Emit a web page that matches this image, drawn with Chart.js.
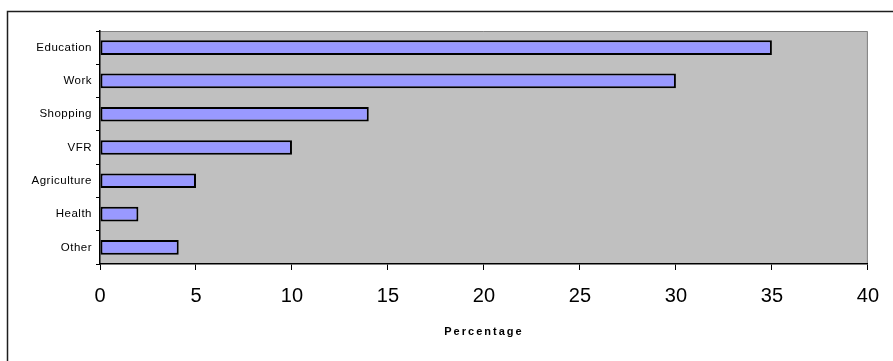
<!DOCTYPE html>
<html>
<head>
<meta charset="utf-8">
<script src="https://cdn.jsdelivr.net/npm/chart.js@4/dist/chart.umd.min.js"></script>
<style>
  html, body { margin: 0; padding: 0; background: #ffffff; }
  canvas { display: block; }
</style>
</head>
<body>
<canvas id="chart" width="893" height="361"></canvas>
<script>
// Trip purposes and their share of trips (%)
const categories = ['Education', 'Work', 'Shopping', 'VFR', 'Agriculture', 'Health', 'Other'];
const shares = [35, 30, 14, 10, 5, 2, 4.1];
const axisMin = 0;
const axisMax = 40;
const axisStep = 5;
const axisTitle = 'Percentage';

const FONT = "'Liberation Sans', Arial, Helvetica, sans-serif";

// Grey plot panel plus the frame lines around the whole figure
const panelPlugin = {
  id: 'panel',
  beforeDraw(chart) {
    const { ctx, chartArea: a } = chart;
    ctx.save();
    ctx.fillStyle = '#ffffff';
    ctx.fillRect(0, 0, chart.width, chart.height);
    // outer frame (top and left edges)
    ctx.strokeStyle = '#1e1e1e';
    ctx.lineWidth = 1.5;
    ctx.beginPath();
    ctx.moveTo(7.5, chart.height);
    ctx.lineTo(7.5, 11.5);
    ctx.lineTo(chart.width, 11.5);
    ctx.stroke();
    // plot panel
    ctx.fillStyle = '#c0c0c0';
    ctx.fillRect(a.left, a.top, a.right - a.left, a.bottom - a.top);
    ctx.strokeStyle = '#808080';
    ctx.lineWidth = 1;
    ctx.beginPath();
    ctx.moveTo(a.left, a.top + 0.5);
    ctx.lineTo(a.right - 0.5, a.top + 0.5);
    ctx.lineTo(a.right - 0.5, a.bottom);
    ctx.stroke();
    ctx.restore();
  }
};

// Wider letter spacing for the axis title and the category labels
const spacingPlugin = {
  id: 'spacing',
  beforeDraw(chart) {
    const wrap = (scale, method, spacing) => {
      const key = '_spaced_' + method;
      if (scale[key]) return;
      const orig = scale[method];
      scale[method] = function (...args) {
        const c = this.ctx;
        c.save();
        c.letterSpacing = spacing;
        orig.apply(this, args);
        c.restore();
      };
      scale[key] = true;
    };
    wrap(chart.scales.x, 'drawTitle', '2px');
    wrap(chart.scales.y, 'drawLabels', '0.5px');
  }
};

new Chart(document.getElementById('chart'), {
  type: 'bar',
  data: {
    labels: categories,
    datasets: [{
      data: shares,
      backgroundColor: '#9999ff',
      borderColor: '#000000',
      borderWidth: 2,
      borderSkipped: false,
      categoryPercentage: 1,
      barPercentage: 0.44
    }]
  },
  options: {
    indexAxis: 'y',
    responsive: false,
    devicePixelRatio: 1,
    animation: false,
    layout: { padding: { top: 31, right: 23, bottom: 0, left: 0 } },
    plugins: {
      legend: { display: false },
      tooltip: { enabled: false },
      title: { display: false }
    },
    scales: {
      x: {
        type: 'linear',
        min: axisMin,
        max: axisMax,
        ticks: {
          stepSize: axisStep,
          color: '#000000',
          font: { family: FONT, size: 20 },
          padding: 14,
          maxRotation: 0
        },
        grid: {
          drawOnChartArea: false,
          drawTicks: true,
          tickLength: 6,
          color: '#000000',
          lineWidth: 1
        },
        border: { display: true, color: '#000000', width: 1.5 },
        title: {
          display: true,
          text: axisTitle,
          color: '#000000',
          font: { family: FONT, size: 11, weight: 'bold' },
          padding: { top: 0, bottom: 22 }
        },
        afterFit(scale) { scale.height = 97; }
      },
      y: {
        type: 'category',
        offset: true,
        ticks: {
          color: '#000000',
          font: { family: FONT, size: 11.5 },
          padding: 4
        },
        grid: {
          offset: true,
          drawOnChartArea: false,
          drawTicks: true,
          tickLength: 4,
          color: '#000000',
          lineWidth: 1
        },
        border: { display: true, color: '#000000', width: 1.5 },
        afterFit(scale) { scale.width = 100; }
      }
    }
  },
  plugins: [panelPlugin, spacingPlugin]
});
</script>
</body>
</html>
